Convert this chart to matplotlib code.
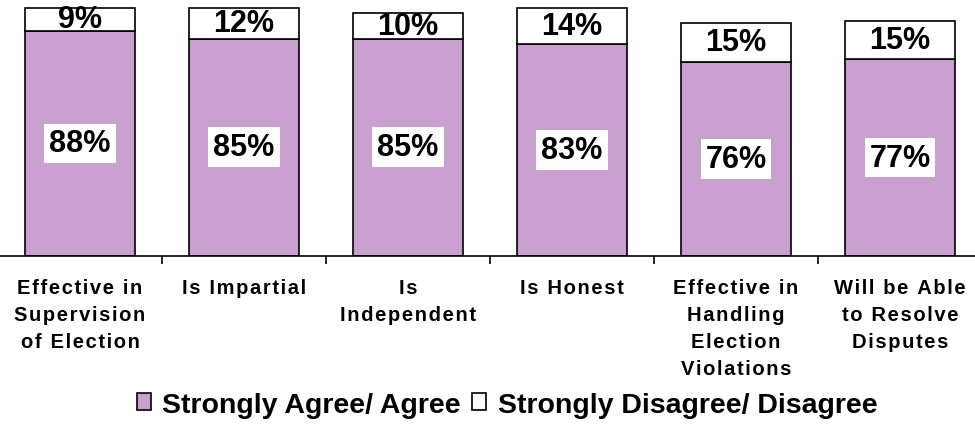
import matplotlib.pyplot as plt

# chart data
categories = ["Effective in\nSupervision\nof Election", "Is Impartial", "Is\nIndependent",
              "Is Honest", "Effective in\nHandling\nElection\nViolations",
              "Will be Able\nto Resolve\nDisputes"]
agree = [88, 85, 85, 83, 76, 77]
disagree = [9, 12, 10, 14, 15, 15]
series_names = ["Strongly Agree/ Agree", "Strongly Disagree/ Disagree"]

plt.rcParams['font.family'] = ['Liberation Sans', 'DejaVu Sans']


def spaced(s):
    # wide letter spacing like the original axis labels
    return '\n'.join('\u200a'.join(line) for line in s.split('\n'))


fig = plt.figure(figsize=(9.75, 4.27), dpi=100)
ax = fig.add_axes([-2 / 975, (427 - 257) / 427, 984 / 975, 255.7 / 427])

x = list(range(len(categories)))
agree_col = '#c9a0cf'
b1 = ax.bar(x, agree, width=0.67, color=agree_col, edgecolor='black', linewidth=1.2,
            label=series_names[0])
b2 = ax.bar(x, disagree, width=0.67, bottom=agree, color='white', edgecolor='black',
            linewidth=1.2, label=series_names[1])

for i in x:
    ax.text(i, agree[i] / 2, f"{agree[i]}%", ha='center', va='center', fontsize=22,
            fontweight='bold',
            bbox=dict(facecolor='white', edgecolor='none', pad=3.5))
    ax.text(i, agree[i] + disagree[i] / 2, f"{disagree[i]}%", ha='center', va='center',
            fontsize=22, fontweight='bold', clip_on=False)

ax.set_xlim(-0.5, len(categories) - 0.5)
ax.set_ylim(0, 100)
ax.set_yticks([])
for s in ['left', 'right', 'top']:
    ax.spines[s].set_visible(False)
ax.spines['bottom'].set_linewidth(1.2)

ax.set_xticks(x)
ax.set_xticklabels([spaced(c) for c in categories], fontsize=14.5, fontweight='bold',
                   va='top', linespacing=1.53)
ax.tick_params(axis='x', which='major', length=0, pad=16)
ax.set_xticks([i + 0.5 for i in x[:-1]], minor=True)
ax.tick_params(axis='x', which='minor', length=6, width=1.2, direction='out')

fig.legend(handles=[b1, b2], labels=series_names, loc='center', bbox_to_anchor=(0.52, 0.05),
           ncol=2, frameon=False, prop={'weight': 'bold', 'size': 20.5},
           handlelength=0.5, handleheight=0.5, handletextpad=0.4, columnspacing=0.4)

fig.savefig('out.png', dpi=100)
